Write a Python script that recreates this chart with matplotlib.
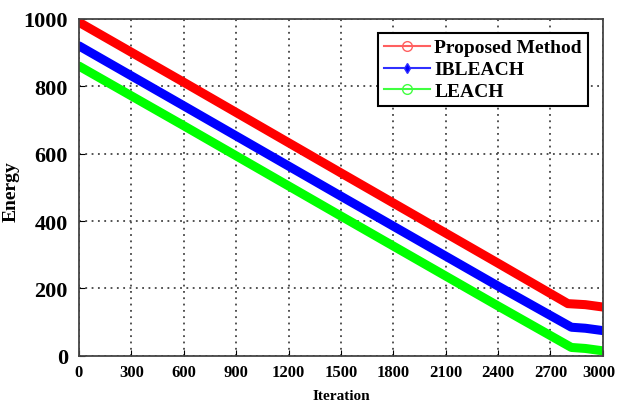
import numpy as np
import matplotlib
matplotlib.use('Agg')
import matplotlib.pyplot as plt
import matplotlib.transforms as mtransforms
from matplotlib.lines import Line2D

# data (iteration, energy)
iters_prop = [0, 600, 1500, 2400, 2800, 2900, 3000]
energy_prop = [990, 812, 543, 275, 155, 152, 145]

iters_ib = [0, 600, 1500, 2400, 2820, 2900, 3000]
energy_ib = [920, 742, 474, 207, 85, 82, 75]

iters_leach = [0, 600, 1500, 2400, 2820, 2900, 3000]
energy_leach = [860, 683, 415, 148, 25, 22, 15]

xticks = [0, 300, 600, 900, 1200, 1500, 1800, 2100, 2400, 2700, 3000]
yticks = [0, 200, 400, 600, 800, 1000]

plt.rcParams['font.family'] = ['Liberation Serif', 'DejaVu Serif']
plt.rcParams['font.weight'] = 'bold'

fig = plt.figure(figsize=(6.17, 4.06), dpi=100)
ax = fig.add_axes([0.128, 0.121, 0.849, 0.830])

ax.plot(iters_prop, energy_prop, color='#ff0000', lw=6.5, solid_capstyle='round',
        label='Proposed Method')
ax.plot(iters_ib, energy_ib, color='#0000ff', lw=6.5, solid_capstyle='round',
        label='IBLEACH')
ax.plot(iters_leach, energy_leach, color='#00ff00', lw=6.5, solid_capstyle='round',
        label='LEACH')

ax.set_xlim(0, 3000)
ax.set_ylim(0, 1000)
ax.set_xticks(xticks)
ax.set_yticks(yticks)
ax.tick_params(axis='x', labelsize=12, direction='in', pad=6, length=4)
ax.tick_params(axis='y', labelsize=16, direction='in', pad=8, length=4)
ax.grid(True, color='#444444', linestyle=(0, (1, 2.5)), linewidth=1.3)
ax.set_axisbelow(True)
for s in ax.spines.values():
    s.set_linewidth(1.3)
    s.set_color('#444444')

# last x label sits at the very edge, nudge it in a little
lab = ax.get_xticklabels()[-1]
lab.set_transform(lab.get_transform() +
                  mtransforms.ScaledTranslation(-4 / 100, 0, fig.dpi_scale_trans))

ax.set_xlabel('Iteration', fontsize=11, fontweight='bold', labelpad=6)
ax.set_ylabel('Energy', fontsize=14, fontweight='bold')
ax.yaxis.set_label_coords(-0.113, 0.49)

# legend with marker styles as in the original
handles = [
    Line2D([], [], color='#ff6060', lw=1.5, marker='o', mfc='none', ms=7),
    Line2D([], [], color='#3030ff', lw=1.5, marker='d', mfc='#0000ff', ms=5),
    Line2D([], [], color='#40ff40', lw=1.5, marker='o', mfc='none', ms=7),
]
leg = ax.legend(handles, ['Proposed Method', 'IBLEACH', 'LEACH'],
                loc='upper right', bbox_to_anchor=(0.971, 0.958),
                prop={'size': 14, 'weight': 'bold'},
                fancybox=False, framealpha=1, edgecolor='black',
                handlelength=2.4, handletextpad=0.2, labelspacing=0.22,
                borderpad=0.3, borderaxespad=0)
leg.get_frame().set_linewidth(1.5)

fig.savefig('out.png', dpi=100)
